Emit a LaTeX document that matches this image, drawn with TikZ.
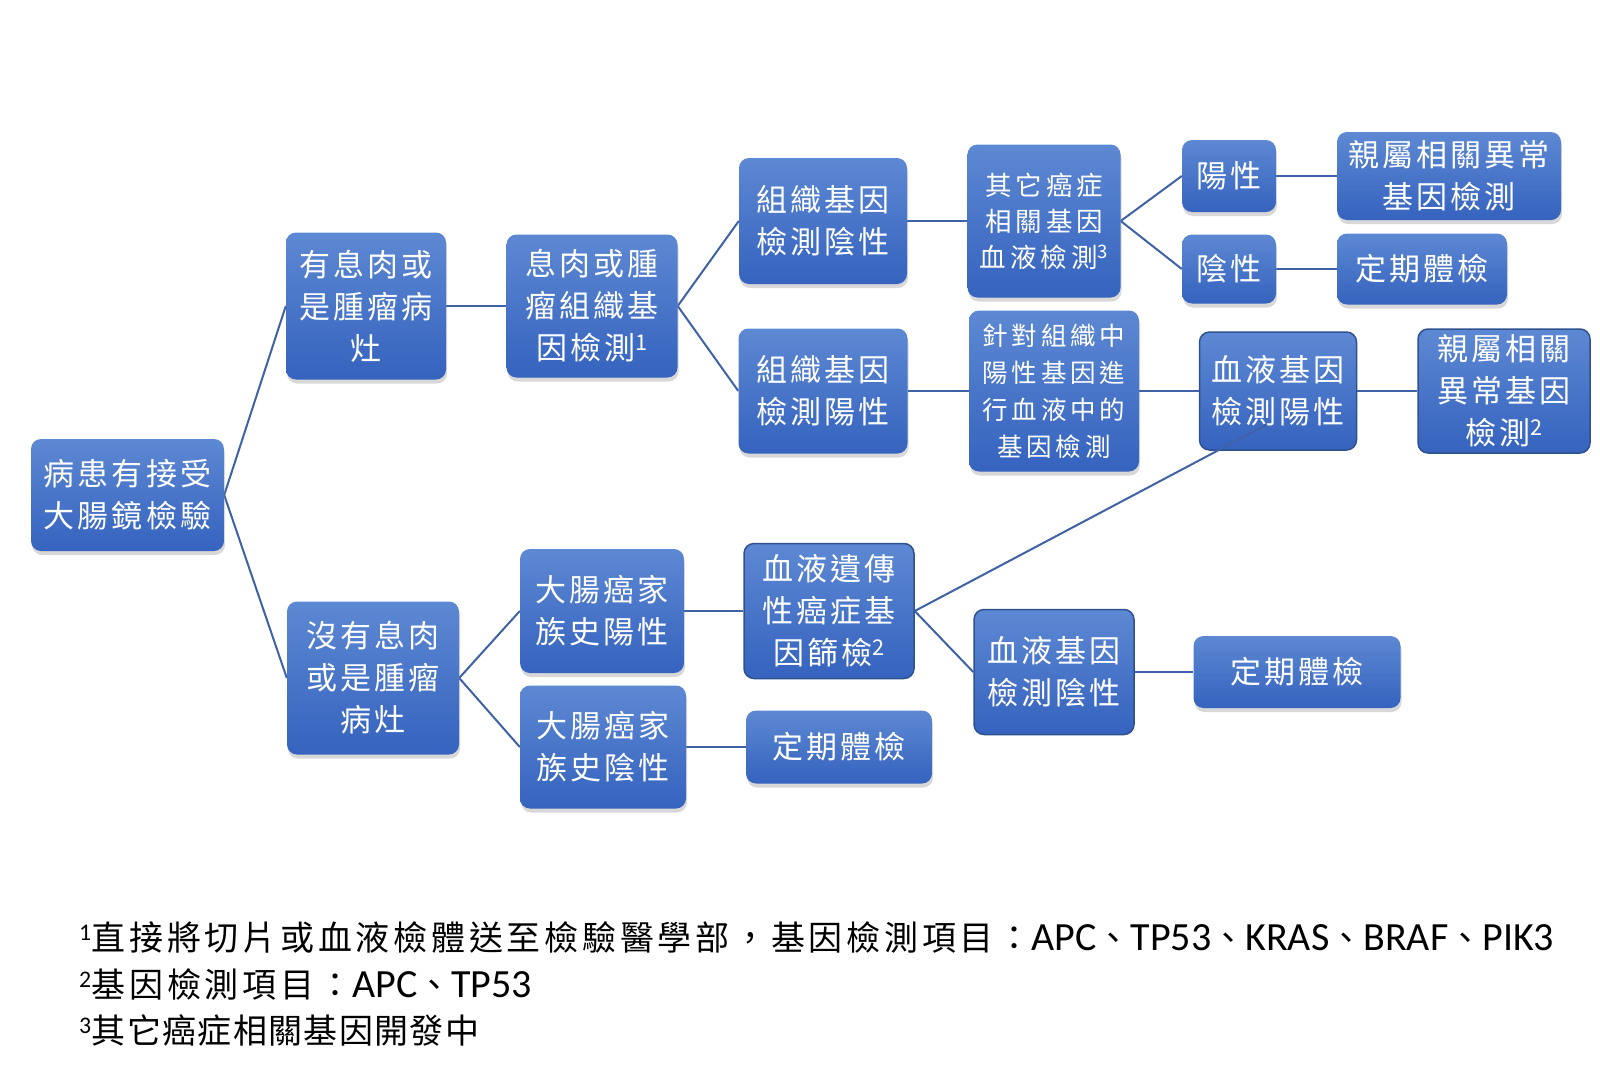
\documentclass[tikz,border=0pt]{standalone}
\usepackage{fontspec}
\newfontfamily\bx[LetterSpace=10]{Noto Sans CJK TC}
\newfontfamily\bxs[LetterSpace=15]{Noto Sans CJK TC}
\newfontfamily\ftc[LetterSpace=11]{Noto Sans CJK TC}
\newfontfamily\ftcn[LetterSpace=4]{Noto Sans CJK TC}
\newfontfamily\latf{Carlito}
\newcommand\lat{\latf\fontsize{40}{40}\selectfont}
\usetikzlibrary{shadows,backgrounds}
\definecolor{lnc}{HTML}{3F62A6}
\definecolor{btop}{HTML}{5D88D3}
\definecolor{bbot}{HTML}{3563BE}
\definecolor{bord}{HTML}{2F528F}
\tikzset{
  basebox/.style={rounded corners=10pt, top color=btop, bottom color=bbot, text=white,
    align=center, inner sep=0pt, font=\bx\fontsize{31}{42}\selectfont},
  box/.style={basebox, draw=none, drop shadow={shadow xshift=1pt, shadow yshift=-4pt, opacity=0.3}},
  obox/.style={basebox, draw=bord, line width=1.5pt},
  small/.style={font=\bxs\fontsize{26.5}{36}\selectfont},
  conn/.style={draw=lnc, line width=2pt},
  foot/.style={anchor=base west, inner sep=0pt, text=black, font=\ftc\fontsize{34}{40}\selectfont}
}
\begin{document}
\begin{tikzpicture}[x=1pt,y=-1pt]
\useasboundingbox (0,0) rectangle (1600,1071);
% nodes
\node[box, minimum width=193pt, minimum height=112pt] (n1) at (127.5,495) {病患有接受\\大腸鏡檢驗};
\node[box, minimum width=160pt, minimum height=147pt] (n2) at (366,306) {有息肉或\\是腫瘤病\\灶};
\node[box, minimum width=171pt, minimum height=143pt] (n3) at (592,306) {息肉或腫\\瘤組織基\\因檢測\textsuperscript{1}};
\node[box, minimum width=168pt, minimum height=126pt] (n4) at (823,221) {組織基因\\檢測陰性};
\node[box, minimum width=169pt, minimum height=125pt] (n5) at (823,391) {組織基因\\檢測陽性};
\node[box, small, minimum width=153pt, minimum height=153pt] (n6) at (1044,221) {其它癌症\\相關基因\\血液檢測\textsuperscript{3}};
\node[box, minimum width=94pt, minimum height=72pt] (n7) at (1229,176) {陽性};
\node[box, minimum width=94pt, minimum height=69pt] (n8) at (1229,269) {陰性};
\node[box, minimum width=224pt, minimum height=88pt] (n9) at (1449,176) {親屬相關異常\\基因檢測};
\node[box, minimum width=170pt, minimum height=71pt] (n10) at (1422,269) {定期體檢};
\node[box, font=\bxs\fontsize{25.5}{37}\selectfont, minimum width=170pt, minimum height=161pt] (n11) at (1054,391) {針對組織中\\陽性基因進\\行血液中的\\基因檢測};
\node[obox, minimum width=157pt, minimum height=118pt] (n12) at (1278,391) {血液基因\\檢測陽性};
\node[obox, minimum width=172pt, minimum height=124pt] (n13) at (1504,391) {親屬相關\\異常基因\\檢測\textsuperscript{2}};
\node[box, minimum width=172pt, minimum height=153pt] (n14) at (373,678) {沒有息肉\\或是腫瘤\\病灶};
\node[box, minimum width=164pt, minimum height=124pt] (n15) at (602,611) {大腸癌家\\族史陽性};
\node[box, minimum width=166pt, minimum height=123pt] (n16) at (603,747) {大腸癌家\\族史陰性};
\node[obox, minimum width=170pt, minimum height=135pt] (n17) at (829,611) {血液遺傳\\性癌症基\\因篩檢\textsuperscript{2}};
\node[box, minimum width=186pt, minimum height=73pt] (n18) at (839,747) {定期體檢};
\node[obox, minimum width=160pt, minimum height=125pt] (n19) at (1054,672) {血液基因\\檢測陰性};
\node[box, minimum width=207pt, minimum height=72pt] (n20) at (1297,672) {定期體檢};
\coordinate (e12) at (1266,425);
% connectors
\begin{scope}[on background layer]
\fill[white] (0,0) rectangle (1600,1071);
\draw[conn] (n1.east) -- (n2.west);
\draw[conn] (n1.east) -- (n14.west);
\draw[conn] (n2.east) -- (n3.west);
\draw[conn] (n3.east) -- (n4.west);
\draw[conn] (n3.east) -- (n5.west);
\draw[conn] (n4.east) -- (n6.west);
\draw[conn] (n6.east) -- (n7.west);
\draw[conn] (n6.east) -- (n8.west);
\draw[conn] (n7.east) -- (n9.west);
\draw[conn] (n8.east) -- (n10.west);
\draw[conn] (n5.east) -- (n11.west);
\draw[conn] (n11.east) -- (n12.west);
\draw[conn] (n12.east) -- (n13.west);
\draw[conn] (n14.east) -- (n15.west);
\draw[conn] (n14.east) -- (n16.west);
\draw[conn] (n15.east) -- (n17.west);
\draw[conn] (n16.east) -- (n18.west);
\draw[conn] (n17.east) -- (n19.west);
\draw[conn] (n19.east) -- (n20.west);
\end{scope}
\draw[conn] (n17.east) -- (e12);
% footnotes
\node[foot] (f1) at (79,950) {\textsuperscript{\latf 1}直接將切片或血液檢體送至檢驗醫學部，基因檢測項目：{\lat APC}、{\lat TP53}、{\lat KRAS}、{\lat BRAF}、{\lat PIK3}};
\node[foot] (f2) at (79,997) {\textsuperscript{\latf 2}基因檢測項目：{\lat APC}、{\lat TP53}};
\node[foot, font=\ftcn\fontsize{34}{40}\selectfont] (f3) at (79,1043) {\textsuperscript{\latf 3}其它癌症相關基因開發中};
\end{tikzpicture}
\end{document}
